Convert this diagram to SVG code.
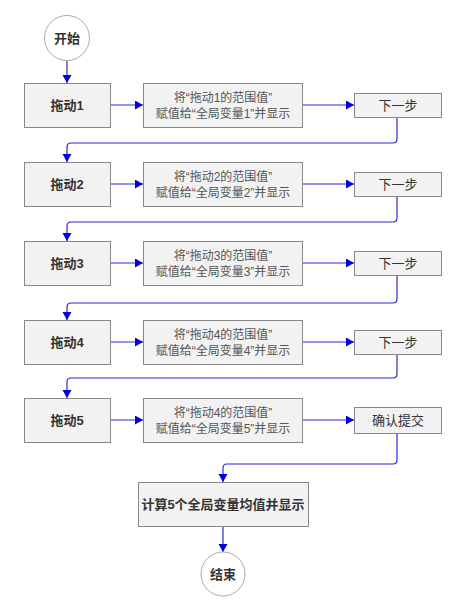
<svg xmlns="http://www.w3.org/2000/svg" width="464" height="611" viewBox="0 0 464 611">
<style>
text{font-family:"Liberation Sans","Noto Sans CJK SC",sans-serif;fill:#333;text-anchor:middle}
.b{font-size:13px;font-weight:bold}
.m{font-size:12px;fill:#555}
.n{font-size:13px}
.box{fill:#f2f2f2;stroke:#888;stroke-width:1}
.circ{fill:#fff;stroke:#aaa;stroke-width:1}
.c{fill:none;stroke:#2a2ad8;stroke-width:1.2;marker-end:url(#ah)}
</style>
<defs>
<marker id="ah" markerUnits="userSpaceOnUse" markerWidth="10" markerHeight="10" refX="8" refY="4.5" orient="auto">
<path d="M0,0 L8,4.5 L0,9 Z" fill="#0000dd"/>
</marker>
</defs>
<rect width="464" height="611" fill="#fff"/>
<g id="connectors">
<path class="c" d="M67,61 V83"/>
<path class="c" d="M110,105 H143"/>
<path class="c" d="M302,105 H354"/>
<path class="c" d="M397,117 V139 Q397,143 393,143 H71 Q67,143 67,147 V162"/>
<path class="c" d="M110,184 H143"/>
<path class="c" d="M302,184 H354"/>
<path class="c" d="M397,196 V218 Q397,222 393,222 H71 Q67,222 67,226 V241"/>
<path class="c" d="M110,263 H143"/>
<path class="c" d="M302,263 H354"/>
<path class="c" d="M397,275 V299 Q397,303 393,303 H71 Q67,303 67,307 V320"/>
<path class="c" d="M110,342 H143"/>
<path class="c" d="M302,342 H354"/>
<path class="c" d="M397,354 V374 Q397,378 393,378 H71 Q67,378 67,382 V398"/>
<path class="c" d="M110,420 H143"/>
<path class="c" d="M302,420 H354"/>
<path class="c" d="M397,433 V460 Q397,464 393,464 H227 Q223,464 223,468 V482"/>
<path class="c" d="M223,526 V552"/>
</g>
<g id="start"><circle class="circ" cx="67" cy="38" r="22.5"/><text class="b" x="67" y="43">开始</text></g>

<g id="drag1"><rect class="box" x="24.5" y="83.5" width="86" height="44"/><text class="b" x="67" y="110">拖动1</text></g>
<g id="assign1"><rect class="box" x="143.5" y="83.5" width="159" height="44"/><text class="m" x="223" y="102">将“拖动1的范围值”</text><text class="m" x="223" y="118">赋值给“全局变量1”并显示</text></g>
<g id="next1"><rect class="box" x="354.5" y="93.5" width="87" height="24"/><text class="n" x="398" y="110">下一步</text></g>

<g id="drag2"><rect class="box" x="24.5" y="162.5" width="86" height="44"/><text class="b" x="67" y="189">拖动2</text></g>
<g id="assign2"><rect class="box" x="143.5" y="162.5" width="159" height="44"/><text class="m" x="223" y="181">将“拖动2的范围值”</text><text class="m" x="223" y="197">赋值给“全局变量2”并显示</text></g>
<g id="next2"><rect class="box" x="354.5" y="172.5" width="87" height="24"/><text class="n" x="398" y="189">下一步</text></g>

<g id="drag3"><rect class="box" x="24.5" y="241.5" width="86" height="44"/><text class="b" x="67" y="268">拖动3</text></g>
<g id="assign3"><rect class="box" x="143.5" y="241.5" width="159" height="44"/><text class="m" x="223" y="260">将“拖动3的范围值”</text><text class="m" x="223" y="276">赋值给“全局变量3”并显示</text></g>
<g id="next3"><rect class="box" x="354.5" y="251.5" width="87" height="24"/><text class="n" x="398" y="268">下一步</text></g>

<g id="drag4"><rect class="box" x="24.5" y="320.5" width="86" height="44"/><text class="b" x="67" y="347">拖动4</text></g>
<g id="assign4"><rect class="box" x="143.5" y="320.5" width="159" height="44"/><text class="m" x="223" y="339">将“拖动4的范围值”</text><text class="m" x="223" y="355">赋值给“全局变量4”并显示</text></g>
<g id="next4"><rect class="box" x="354.5" y="330.5" width="87" height="24"/><text class="n" x="398" y="347">下一步</text></g>

<g id="drag5"><rect class="box" x="24.5" y="398.5" width="86" height="44"/><text class="b" x="67" y="425">拖动5</text></g>
<g id="assign5"><rect class="box" x="143.5" y="398.5" width="159" height="44"/><text class="m" x="223" y="417">将“拖动4的范围值”</text><text class="m" x="223" y="433">赋值给“全局变量5”并显示</text></g>
<g id="submit"><rect class="box" x="354.5" y="407.5" width="87" height="26"/><text class="n" x="398" y="425">确认提交</text></g>

<g id="calc"><rect class="box" x="138.5" y="482.5" width="170" height="44"/><text class="b" x="223" y="509">计算5个全局变量均值并显示</text></g>
<g id="end"><circle class="circ" cx="223" cy="574" r="22"/><text class="b" x="223" y="579">结束</text></g>
</svg>
